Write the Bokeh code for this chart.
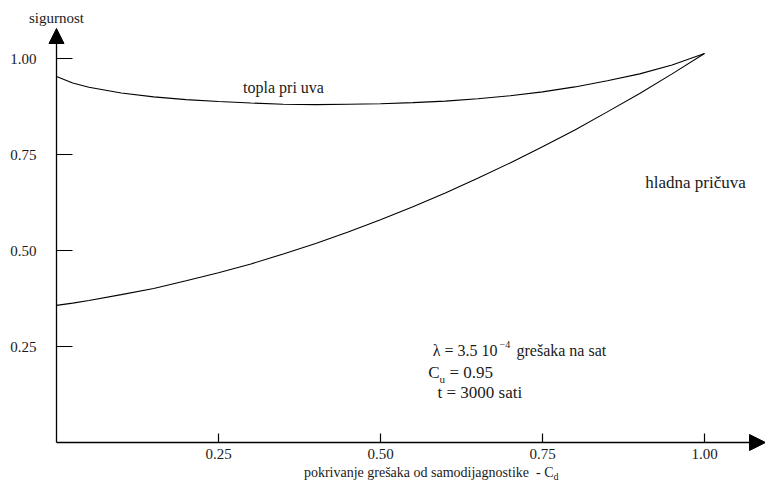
from bokeh.plotting import figure
from bokeh.models import Arrow, NormalHead, ColumnDataSource
from bokeh.core.properties import value
from bokeh.embed import file_html
from bokeh.resources import INLINE

# ---- data ----
coverage = [0.0, 0.025, 0.05, 0.10, 0.15, 0.20, 0.25, 0.30, 0.35, 0.40, 0.45, 0.50,
            0.55, 0.60, 0.65, 0.70, 0.75, 0.80, 0.85, 0.90, 0.95, 1.00]
warm_standby = [0.953, 0.936, 0.925, 0.910, 0.900, 0.893, 0.888, 0.884, 0.881, 0.880, 0.881, 0.882,
                0.885, 0.889, 0.895, 0.903, 0.913, 0.926, 0.942, 0.960, 0.983, 1.013]
cold_standby = [0.357, 0.363, 0.370, 0.385, 0.401, 0.421, 0.442, 0.465, 0.491, 0.518, 0.548, 0.580,
                0.614, 0.650, 0.688, 0.728, 0.770, 0.814, 0.861, 0.909, 0.960, 1.013]
x_ticks = [0.25, 0.50, 0.75, 1.00]
x_tick_labels = ["0.25", "0.50", "0.75", "1.00"]
y_ticks = [0.25, 0.50, 0.75, 1.00]
y_tick_labels = ["0.25", "0.50", "0.75", "1.00"]

FONT = value("'Liberation Serif', 'Times New Roman', serif")
INK = "#1a1a1a"

W, H = 765, 482
XS = 648.0   # px per unit x
YS = 384.0   # px per unit y
x0 = -56.0 / XS
x1 = x0 + W / XS
y0 = -(H - 442.0) / YS
y1 = y0 + H / YS

def wx(px):  # picture px -> data x
    return (px - 56.0) / XS

def wy(py):  # picture py -> data y
    return (442.0 - py) / YS

p = figure(width=W, height=H, x_range=(x0, x1), y_range=(y0, y1),
           output_backend="svg", toolbar_location=None, min_border=0,
           x_axis_type=None, y_axis_type=None)
p.grid.visible = False
p.outline_line_color = None
p.background_fill_color = "white"
p.border_fill_color = "white"

# axes with arrows
p.add_layout(Arrow(end=NormalHead(size=16, fill_color="black", line_color="black"),
                   x_start=0, y_start=0, x_end=x1, y_end=0, line_width=1.3, line_color="black"))
p.add_layout(Arrow(end=NormalHead(size=15, fill_color="black", line_color="black"),
                   x_start=0, y_start=0, x_end=0, y_end=wy(28), line_width=1.3, line_color="black"))

# ticks
p.segment(x0=x_ticks, y0=[0] * 4, x1=x_ticks, y1=[9 / YS] * 4, line_color="black", line_width=1.2)
p.segment(x0=[0] * 4, y0=y_ticks, x1=[16 / XS] * 4, y1=y_ticks, line_color="black", line_width=1.2)

p.text(x=x_ticks, y=[0] * 4, text=x_tick_labels, text_align="center", text_baseline="top",
       y_offset=6, text_font=FONT, text_font_size="15px", text_color=INK)
p.text(x=[0] * 4, y=y_ticks, text=y_tick_labels, text_align="right", text_baseline="middle",
       x_offset=-20, text_font=FONT, text_font_size="15px", text_color=INK)

# curves
src = ColumnDataSource(dict(x=coverage, warm=warm_standby, cold=cold_standby))
p.line("x", "warm", source=src, line_color="black", line_width=1.1)
p.line("x", "cold", source=src, line_color="black", line_width=1.1)

def txt(x, y, s, size, align="left", baseline="middle", xo=0, yo=0):
    p.text(x=[x], y=[y], text=[s], text_align=align, text_baseline=baseline,
           x_offset=xo, y_offset=yo, text_font=FONT, text_font_size=size, text_color=INK)

# axis titles
txt(0, wy(17), "sigurnost", "15px", align="center")
txt(wx(553), wy(472), "pokrivanje grešaka od samodijagnostike \u00a0- C", "14px", align="right")
txt(wx(553), wy(472), "d", "10px", align="left", yo=4)

# curve labels
txt(wx(283), wy(87), "topla pri uva", "16px", align="center")
txt(wx(695), wy(182), "hladna pričuva", "17px", align="center")

# annotation
txt(wx(497), wy(350), "λ = 3.5 10", "16px", align="right")
txt(wx(499), wy(350), "−4", "10px", align="left", yo=-6)
txt(wx(516), wy(350), "grešaka na sat", "16px", align="left")
txt(wx(439), wy(372), "C", "17px", align="right")
txt(wx(439), wy(372), "u", "11px", align="left", yo=6)
txt(wx(449), wy(372), "= 0.95", "17px", align="left")
txt(wx(437), wy(392), "t = 3000 sati", "17px", align="left")

open("out.html", "w").write(file_html(p, INLINE))
